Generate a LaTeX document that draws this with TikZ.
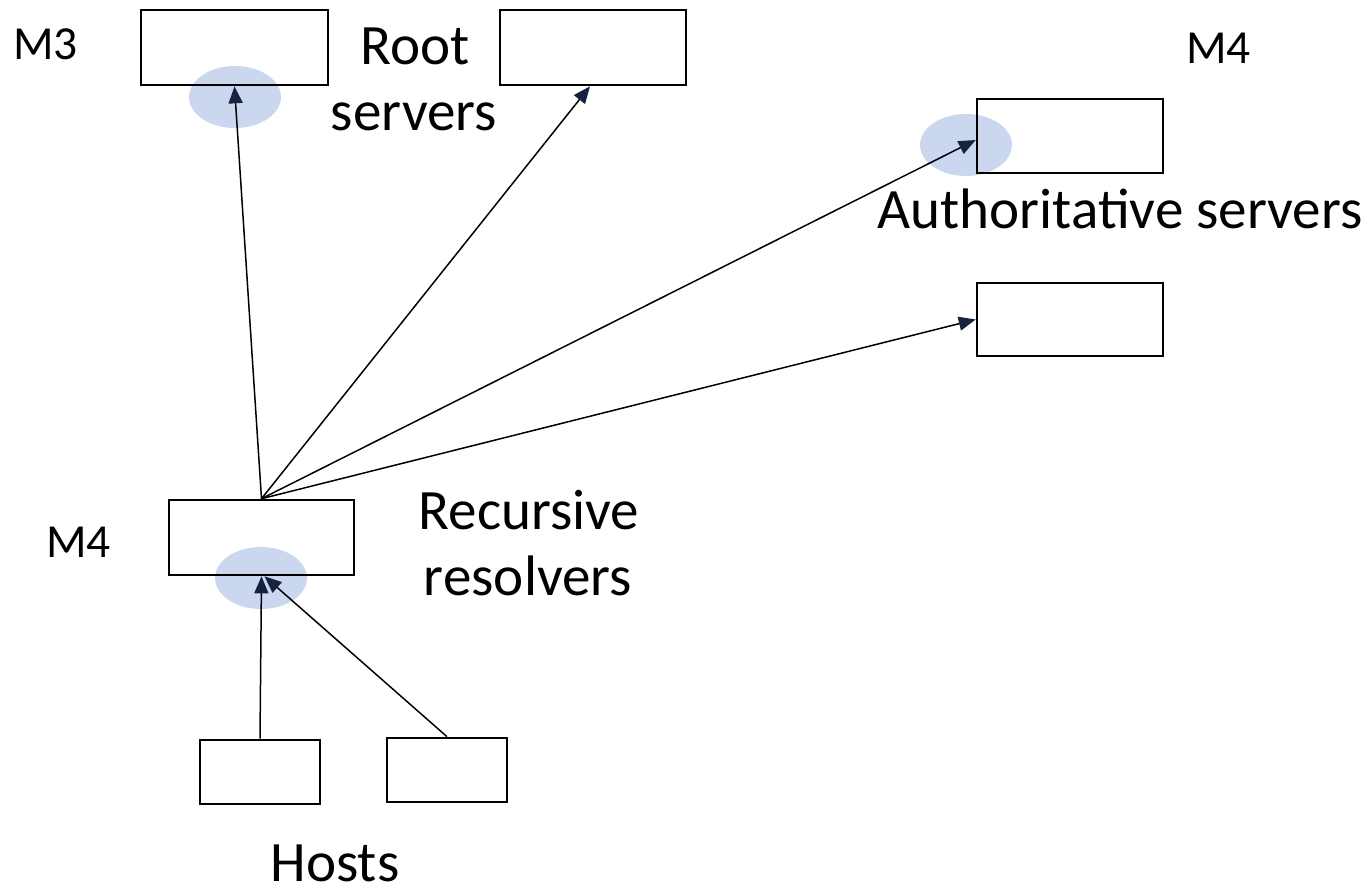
\documentclass[tikz,border=0pt]{standalone}
\usepackage{fontspec}
\setmainfont{Carlito}
\usetikzlibrary{arrows.meta,shapes.geometric}
\definecolor{hl}{RGB}{197,211,236}
\definecolor{tipc}{RGB}{22,34,62}
\tikzset{
  srv/.style={draw=black,line width=1.5pt,inner sep=0pt},
  hlell/.style={ellipse,fill=hl,fill opacity=0.9,draw=none,minimum width=1.84cm,minimum height=1.24cm,inner sep=0pt},
  conn/.style={draw=black,line width=0.85pt,-{Triangle[length=0.34cm,width=0.28cm,color=tipc]}},
  lbl/.style={font=\fontsize{32.5}{32.5}\selectfont,inner sep=0pt,anchor=base},
  mlbl/.style={font=\fontsize{27}{27}\selectfont,inner sep=0pt,anchor=base west},
}
\begin{document}
\begin{tikzpicture}[x=0.02cm,y=-0.02cm]
\useasboundingbox (0,0) rectangle (1372,891);
% highlight ellipses
\node[hlell] (e1) at (235,97) {};
\node[hlell] (e2) at (966,145) {};
\node[hlell] (e3) at (261,578) {};
% boxes
\node[srv,minimum width=3.74cm,minimum height=1.5cm] (r1) at (234.5,47.5) {};
\node[srv,minimum width=3.72cm,minimum height=1.5cm] (r2) at (593,47.5) {};
\node[srv,minimum width=3.72cm,minimum height=1.48cm] (a1) at (1070,136) {};
\node[srv,minimum width=3.72cm,minimum height=1.46cm] (a2) at (1070,319.5) {};
\node[srv,minimum width=3.7cm,minimum height=1.5cm] (rr) at (261.5,537.5) {};
\node[srv,minimum width=2.4cm,minimum height=1.28cm] (h1) at (260,772) {};
\node[srv,minimum width=2.4cm,minimum height=1.28cm] (h2) at (447,770) {};
% labels
\node[mlbl] (m3) at (13,60) {M3};
\node[lbl] (root) at (415,65) {Root};
\node[lbl] (rootb) at (414,131) {servers};
\node[mlbl] (m4a) at (1186,64) {M4};
\node[lbl] (auth) at (1120,229) {Authoritative servers};
\node[mlbl] (m4b) at (46,557) {M4};
\node[lbl] (rec) at (529,529) {Recursive};
\node[lbl] (recb) at (528,595) {resolvers};
\node[lbl,text depth=0pt] (hosts) at (335,881) {Hosts};
% connectors
\draw[conn] (rr.north) -- (r1.south);
\draw[conn] (rr.north) -- ([xshift=-0.06cm]r2.south);
\draw[conn] (rr.north) -- ([yshift=-0.08cm]a1.west);
\draw[conn] (rr.north) -- (a2.west);
\draw[conn] (h1.north) -- (rr.south);
\draw[conn] (h2.north) -- ([xshift=0.06cm]rr.south);
\end{tikzpicture}
\end{document}
